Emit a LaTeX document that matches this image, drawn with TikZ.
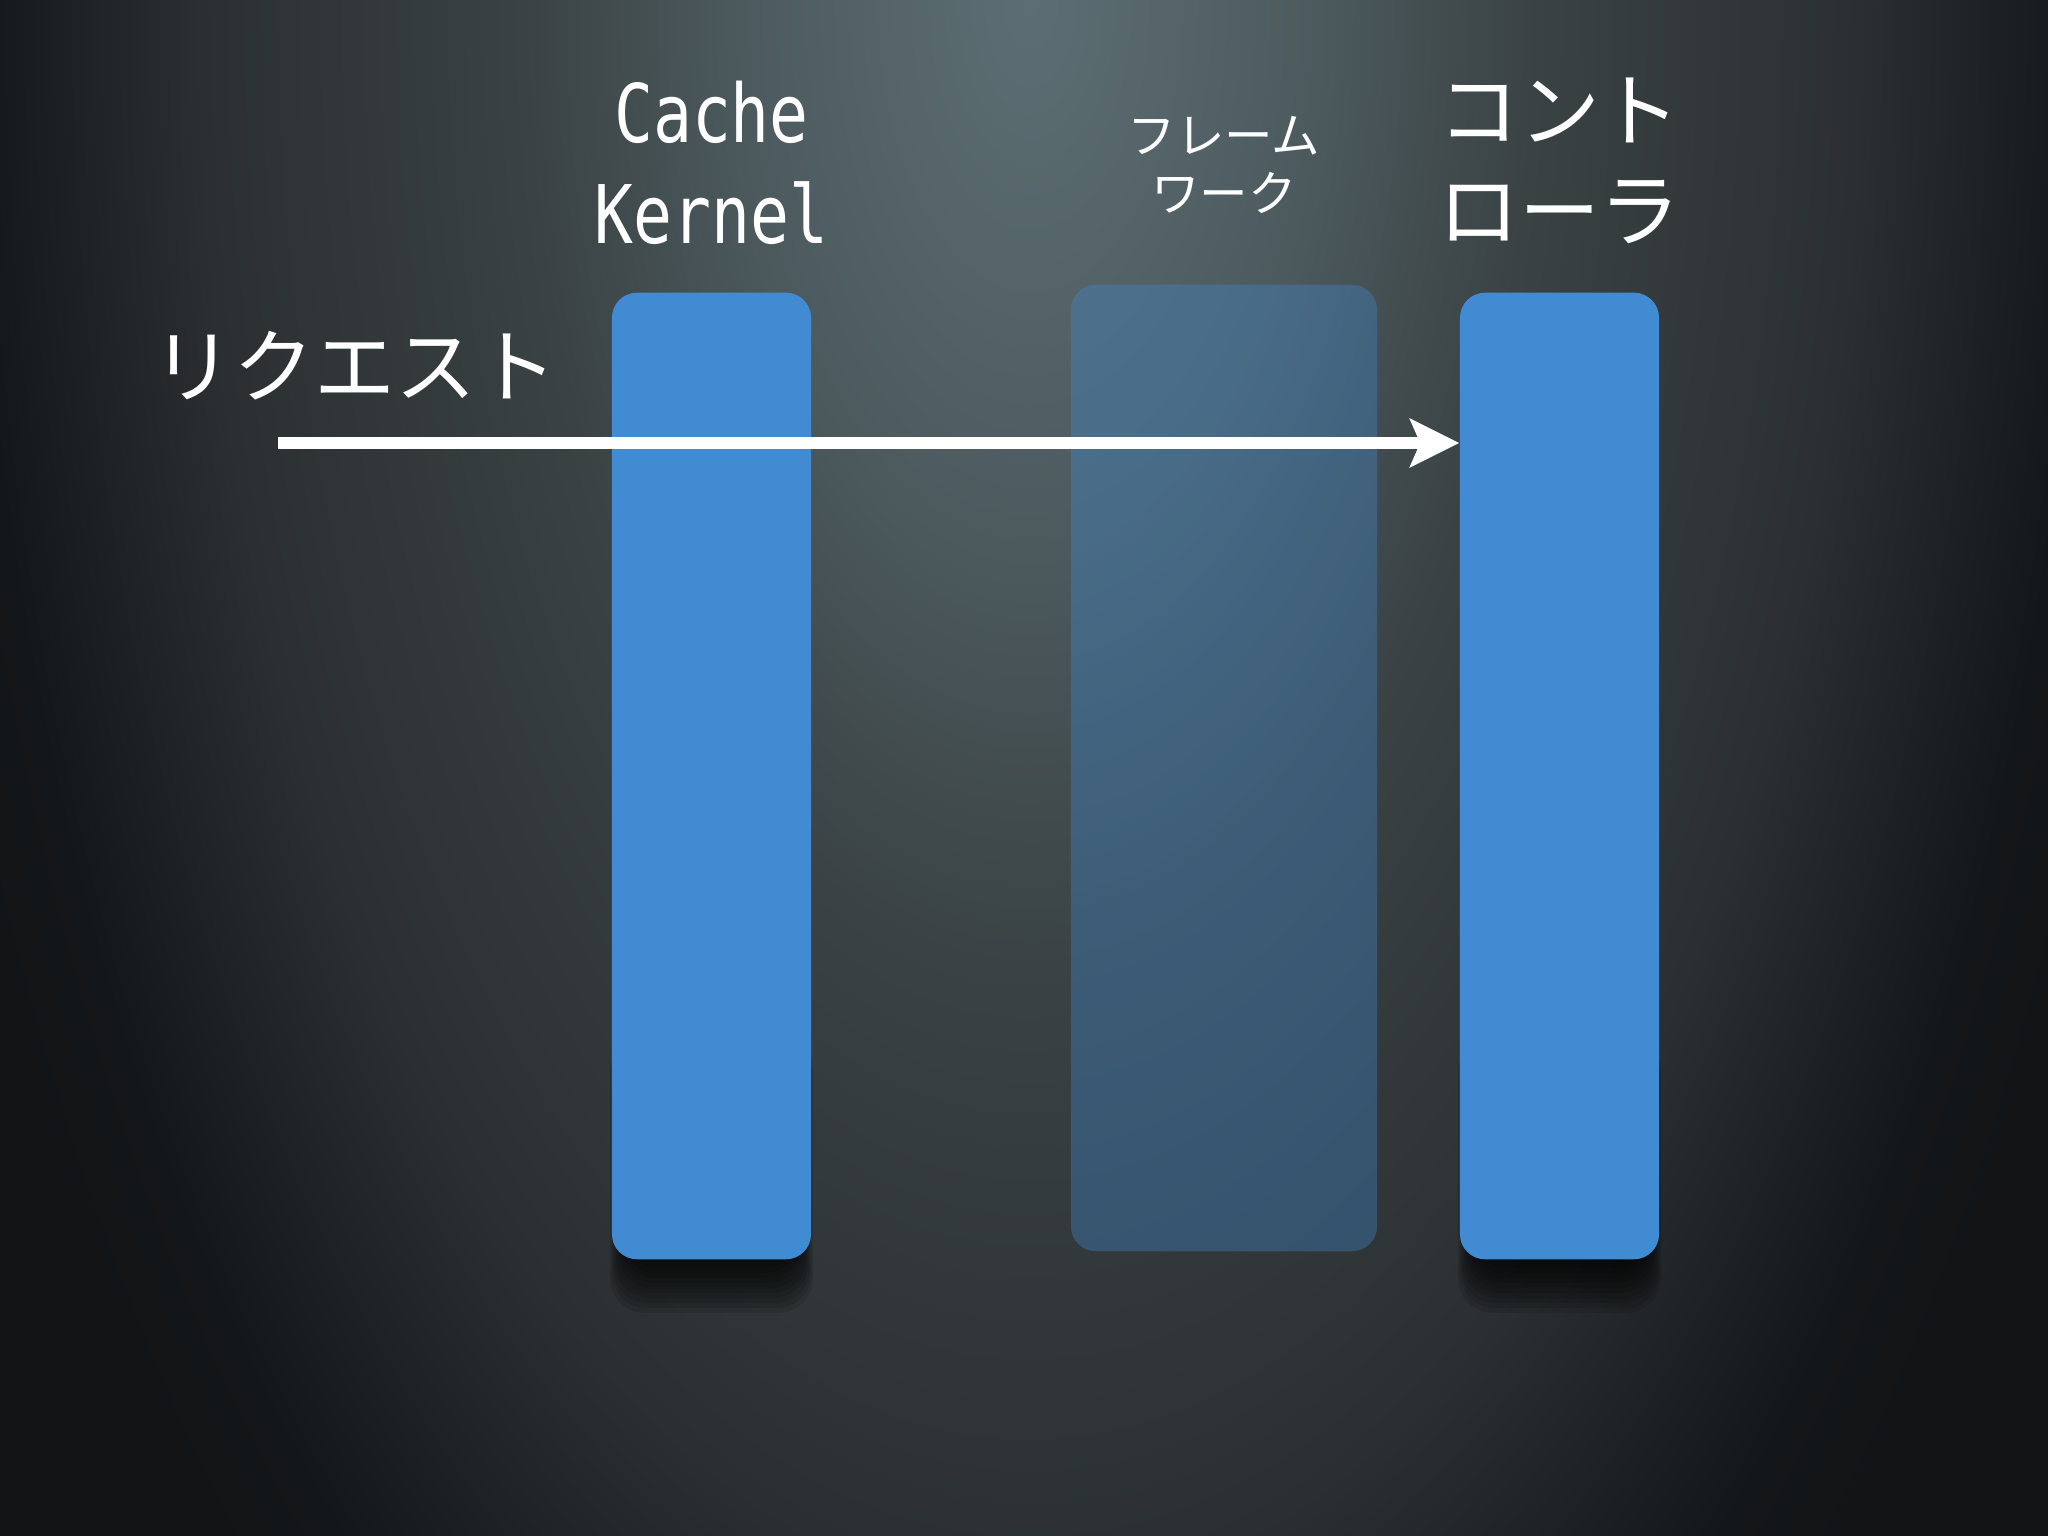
\documentclass[tikz,border=0pt]{standalone}
\usepackage{fontspec}
\setmonofont{DejaVu Sans Mono}
\newfontfamily\jpfont{Noto Sans CJK JP}
\usepackage{tikz}
\usetikzlibrary{positioning,arrows.meta}
\definecolor{barblue}{HTML}{418BD3}
\definecolor{bgtop}{HTML}{5C6E74}
\definecolor{bghigh}{HTML}{4D5B5F}
\definecolor{bgmid}{HTML}{3A4244}
\definecolor{bglow}{HTML}{2B2F31}
\definecolor{bgedge}{HTML}{141719}
\definecolor{bgdark}{HTML}{121416}
\pgfdeclareradialshading{glow}{\pgfpoint{0bp}{0bp}}{color(0bp)=(bgtop); color(6bp)=(bghigh); color(11bp)=(bgmid); color(18bp)=(bglow); color(23bp)=(bgedge); color(25bp)=(bgdark); color(50bp)=(bgdark)}
\tikzstyle{bar}=[rectangle, rounded corners=0.25cm, fill=barblue, minimum width=1.99cm, minimum height=9.66cm, inner sep=0]
\tikzstyle{glassbar}=[bar, fill opacity=0.35, minimum width=3.06cm]
\tikzstyle{monolabel}=[text=white, align=center, inner sep=0, xscale=0.8, font=\ttfamily\fontsize{23}{28.7}\selectfont]
\tikzstyle{jplabel}=[text=white, align=center, inner sep=0, font=\jpfont\fontsize{23}{28.5}\selectfont]
\tikzstyle{smalljp}=[jplabel, font=\jpfont\fontsize{13.8}{16.5}\selectfont]
\tikzset{>={Stealth[length=0.49cm, width=0.48cm, inset=0.1cm]}}

\begin{document}
\begin{tikzpicture}[x=0.01cm, y=0.01cm]
    \useasboundingbox (0,0) rectangle (2048,1536);
    \fill[bgdark] (0,0) rectangle (2048,1536);
    \begin{scope}
        \clip (0,0) rectangle (2048,1536);
        \shade[shading=glow] (1030,1536) ellipse [x radius=11.5cm, y radius=22cm];
    \end{scope}

    % soft shadows under the solid bars
    \foreach \cx in {711.5, 1559.5}{
        \foreach \i in {0,...,9}{
            \fill[black, opacity=0.11, rounded corners=0.35cm]
                (\cx-88-1.5*\i, 268-5*\i) rectangle (\cx+88+1.5*\i, 500);
        };
    };

    \node(cache)[bar] at (711.5,760) {};
    \node(fw)[glassbar] at (1224,768) {};
    \node(ctrl)[bar] at (1559.5,760) {};

    \node(cacheText)[monolabel, above=0.47cm of cache] {Cache\\Kernel};
    \node(fwText)[smalljp, above=0.7cm of fw] {フレーム\\ワーク};
    \node(ctrlText)[jplabel, above=0.47cm of ctrl] {コント\\ローラ};

    \coordinate (reqStart) at (278,1093);
    \node(reqText)[jplabel] at (355,1170) {リクエスト};
    \draw [->, white, line width=0.12cm] (reqStart) -- (reqStart -| ctrl.west);

\end{tikzpicture}
\end{document}
